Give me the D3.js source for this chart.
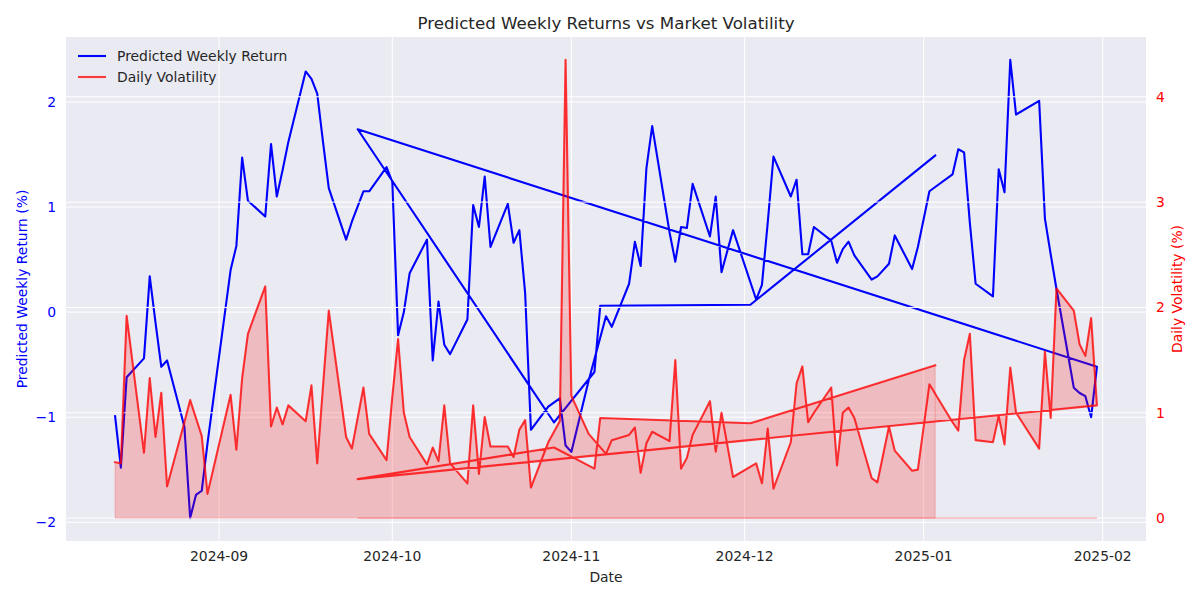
<!DOCTYPE html>
<html>
<head>
<meta charset="utf-8">
<script src="https://cdn.jsdelivr.net/npm/d3@7"></script>
<style>
  body { margin: 0; background: #ffffff; }
  text { font-family: "DejaVu Sans", sans-serif; }
</style>
</head>
<body>
<svg id="chart" width="1200" height="600"></svg>
<script>
// ---- DATA (in the order the series were plotted) ----
const dates = [
  "2024-08-14","2024-08-15","2024-08-16","2024-08-19","2024-08-20","2024-08-21","2024-08-22","2024-08-23",
  "2024-08-26","2024-08-27","2024-08-28","2024-08-29","2024-08-30","2024-09-03","2024-09-04","2024-09-05",
  "2024-09-06","2024-09-09","2024-09-10","2024-09-11","2024-09-12","2024-09-13","2024-09-16","2024-09-17",
  "2024-09-18","2024-09-19","2024-09-20","2024-09-23","2024-09-24","2024-09-26","2024-09-27","2024-09-30",
  "2024-10-01","2024-10-02","2024-10-03","2024-10-04","2024-10-07","2024-10-08","2024-10-09","2024-10-10",
  "2024-10-11","2024-10-14","2024-10-15","2024-10-16","2024-10-17","2024-10-18","2024-10-21","2024-10-22",
  "2024-10-23","2024-10-24","2024-10-25","2024-10-28","2024-10-30","2024-10-31","2024-11-01","2024-11-04",
  "2024-11-07","2024-11-08","2024-11-11","2024-11-12","2024-11-13","2024-11-14","2024-11-15","2024-11-18",
  "2024-11-19","2024-11-20","2024-11-21","2024-11-22","2024-11-25","2024-11-26","2024-11-27","2024-11-29",
  "2024-12-03","2024-12-04","2024-12-05","2024-12-06","2024-12-09","2024-12-10","2024-12-11","2024-12-12",
  "2024-12-13","2024-12-16","2024-12-17","2024-12-18","2024-12-19","2024-12-20","2024-12-23","2024-12-24",
  "2024-12-26","2024-12-27","2024-12-30","2024-12-31","2025-01-02","2025-01-06","2025-01-07","2025-01-08",
  "2025-01-09","2025-01-10","2025-01-13","2025-01-14","2025-01-15","2025-01-16","2025-01-17","2025-01-21",
  "2025-01-22","2025-01-23","2025-01-24","2025-01-27","2025-01-28","2025-01-29","2025-01-30","2025-01-31",
  "2024-09-25","2024-10-29","2024-11-05","2024-11-06","2024-12-02","2025-01-03"
];
const predictedReturn = [
  -0.99,-1.48,-0.62,-0.44, 0.34,-0.10,-0.52,-0.46,
  -1.09,-1.96,-1.74,-1.70,-1.25, 0.40, 0.63, 1.47,
   1.06, 0.91, 1.60, 1.10, 1.35, 1.62, 2.29, 2.22,
   2.08, 1.62, 1.18, 0.69, 0.86, 1.15, 1.15, 1.38,
   1.24,-0.22, 0.00, 0.37, 0.69,-0.46, 0.10,-0.31,
  -0.40,-0.07, 1.02, 0.81, 1.29, 0.62, 1.03, 0.66,
   0.78, 0.18,-1.12,-0.90,-0.82,-1.27,-1.33,-0.65,
  -0.04,-0.14, 0.27, 0.67, 0.44, 1.37, 1.77, 0.76,
   0.48, 0.81, 0.80, 1.22, 0.72, 1.10, 0.38, 0.78,
   0.12, 0.26, 0.85, 1.48, 1.10, 1.26, 0.55, 0.55,
   0.81, 0.68, 0.47, 0.60, 0.67, 0.54, 0.31, 0.34,
   0.46, 0.73, 0.41, 0.62, 1.15, 1.31, 1.55, 1.52,
   0.85, 0.27, 0.15, 1.36, 1.14, 2.40, 1.88, 2.01,
   0.89, 0.55, 0.22,-0.72,-0.77,-0.80,-1.00,-0.52,
   1.74,-1.05,-0.57, 0.06, 0.07, 1.49
];
const dailyVolatility = [
  0.53, 0.52, 1.92, 0.62, 1.33, 0.77, 1.19, 0.30,
  0.91, 1.12, 0.95, 0.78, 0.23, 1.17, 0.65, 1.33,
  1.75, 2.20, 0.87, 1.05, 0.89, 1.07, 0.92, 1.26,
  0.52, 1.25, 1.97, 0.77, 0.66, 1.24, 0.80, 0.55,
  1.15, 1.70, 1.00, 0.77, 0.51, 0.67, 0.54, 1.07,
  0.52, 0.33, 1.07, 0.42, 0.96, 0.68, 0.68, 0.58,
  0.84, 0.93, 0.29, 0.72, 0.92, 4.35, 1.16, 0.80,
  0.61, 0.74, 0.79, 0.86, 0.43, 0.71, 0.82, 0.73,
  1.50, 0.47, 0.57, 0.79, 1.11, 0.63, 1.00, 0.39,
  0.52, 0.33, 0.85, 0.28, 0.72, 1.28, 1.44, 0.91,
  1.00, 1.24, 0.50, 1.00, 1.05, 0.95, 0.38, 0.34,
  0.87, 0.64, 0.45, 0.46, 1.27, 0.91, 0.83, 1.50,
  1.75, 0.74, 0.72, 0.97, 0.70, 1.43, 1.00, 0.66,
  1.58, 0.95, 2.18, 1.97, 1.65, 1.54, 1.90, 1.07,
  0.37, 0.67, 0.47, 0.95, 0.90, 1.45
];
const xTickLabels = ["2024-09","2024-10","2024-11","2024-12","2025-01","2025-02"];
const leftTicks = [-2, -1, 0, 1, 2];
const rightTicks = [0, 1, 2, 3, 4];
const titleText = "Predicted Weekly Returns vs Market Volatility";
const seriesNames = ["Predicted Weekly Return", "Daily Volatility"];

// ---- LAYOUT ----
const W = 1200, H = 600;
const plot = { left: 66, right: 1146, top: 37, bottom: 541 };
const textColor = "#262626";
const fontSize = 13.9;

const parse = d3.utcParse("%Y-%m-%d");
const rows = dates.map((d, i) => ({ date: parse(d), ret: predictedReturn[i], vol: dailyVolatility[i] }));

function pad(ext, frac) { const s = ext[1] - ext[0]; return [ext[0] - s * frac, ext[1] + s * frac]; }

const xExt = d3.extent(rows, d => d.date);
const xSpan = xExt[1] - xExt[0];
const x = d3.scaleUtc()
  .domain([new Date(+xExt[0] - xSpan * 0.05), new Date(+xExt[1] + xSpan * 0.05)])
  .range([plot.left, plot.right]);
const yL = d3.scaleLinear().domain(pad(d3.extent(predictedReturn), 0.05)).range([plot.bottom, plot.top]);
const yR = d3.scaleLinear().domain(pad([0, d3.max(dailyVolatility)], 0.05)).range([plot.bottom, plot.top]);

const svg = d3.select("#chart");
svg.append("rect").attr("width", W).attr("height", H).attr("fill", "#ffffff");

// axes background
svg.append("rect")
  .attr("x", plot.left).attr("y", plot.top)
  .attr("width", plot.right - plot.left).attr("height", plot.bottom - plot.top)
  .attr("fill", "#EAEAF2");

const clip = svg.append("defs").append("clipPath").attr("id", "clip");
clip.append("rect").attr("x", plot.left).attr("y", plot.top)
  .attr("width", plot.right - plot.left).attr("height", plot.bottom - plot.top);

const xTickDates = xTickLabels.map(s => parse(s + "-01"));

// ax1 grid
const g1 = svg.append("g").attr("clip-path", "url(#clip)");
g1.selectAll("line.vx").data(xTickDates).enter().append("line")
  .attr("x1", d => x(d)).attr("x2", d => x(d))
  .attr("y1", plot.top).attr("y2", plot.bottom)
  .attr("stroke", "#ffffff").attr("stroke-width", 1);
g1.selectAll("line.hl").data(leftTicks).enter().append("line")
  .attr("x1", plot.left).attr("x2", plot.right)
  .attr("y1", d => yL(d)).attr("y2", d => yL(d))
  .attr("stroke", "#ffffff").attr("stroke-width", 1);

// blue line
const lineL = d3.line().x(d => x(d.date)).y(d => yL(d.ret));
g1.append("path").datum(rows).attr("d", lineL)
  .attr("fill", "none").attr("stroke", "#0000ff").attr("stroke-width", 2.1)
  .attr("stroke-linejoin", "round").attr("stroke-linecap", "square");

// legend (belongs to ax1)
const leg = svg.append("g");
[["#0000ff", 1], ["#ff0000", 0.75]].forEach((c, i) => {
  const yy = 56 + i * 21;
  leg.append("line").attr("x1", 78).attr("x2", 106).attr("y1", yy).attr("y2", yy)
    .attr("stroke", c[0]).attr("stroke-opacity", c[1]).attr("stroke-width", 2.1);
  leg.append("text").attr("x", 117).attr("y", yy + 5).attr("font-size", fontSize)
    .attr("fill", textColor).text(seriesNames[i]);
});

// ax2 grid + fill + red line
const g2 = svg.append("g").attr("clip-path", "url(#clip)");
g2.selectAll("line.hr").data(rightTicks).enter().append("line")
  .attr("x1", plot.left).attr("x2", plot.right)
  .attr("y1", d => yR(d)).attr("y2", d => yR(d))
  .attr("stroke", "#ffffff").attr("stroke-width", 1);

const area = d3.area().x(d => x(d.date)).y0(yR(0)).y1(d => yR(d.vol));
g2.append("path").datum(rows).attr("d", area)
  .attr("fill", "#ff0000").attr("fill-opacity", 0.2)
  .attr("stroke", "#ff0000").attr("stroke-opacity", 0.2).attr("stroke-width", 1)
  .attr("fill-rule", "nonzero");

const lineR = d3.line().x(d => x(d.date)).y(d => yR(d.vol));
g2.append("path").datum(rows).attr("d", lineR)
  .attr("fill", "none").attr("stroke", "#ff0000").attr("stroke-opacity", 0.75).attr("stroke-width", 2.1)
  .attr("stroke-linejoin", "round").attr("stroke-linecap", "square");

// tick labels
const fmt = d3.utcFormat("%Y-%m");
svg.selectAll("text.xt").data(xTickDates).enter().append("text")
  .attr("x", d => x(d)).attr("y", 561).attr("text-anchor", "middle")
  .attr("font-size", fontSize).attr("fill", textColor).text(d => fmt(d));

const minus = v => (v < 0 ? "\u2212" + Math.abs(v) : String(v));
svg.selectAll("text.yl").data(leftTicks).enter().append("text")
  .attr("x", 56).attr("y", d => yL(d) + 5).attr("text-anchor", "end")
  .attr("font-size", fontSize).attr("fill", "#0000ff").text(d => minus(d));
svg.selectAll("text.yr").data(rightTicks).enter().append("text")
  .attr("x", 1156).attr("y", d => yR(d) + 5).attr("text-anchor", "start")
  .attr("font-size", fontSize).attr("fill", "#ff0000").text(d => minus(d));

// axis labels
svg.append("text").attr("x", (plot.left + plot.right) / 2).attr("y", 582)
  .attr("text-anchor", "middle").attr("font-size", fontSize).attr("fill", textColor).text("Date");
svg.append("text")
  .attr("transform", `translate(27,${(plot.top + plot.bottom) / 2}) rotate(-90)`)
  .attr("text-anchor", "middle").attr("font-size", fontSize).attr("fill", "#0000ff")
  .text("Predicted Weekly Return (%)");
svg.append("text")
  .attr("transform", `translate(1182,${(plot.top + plot.bottom) / 2}) rotate(-90)`)
  .attr("text-anchor", "middle").attr("font-size", fontSize).attr("fill", "#ff0000")
  .text("Daily Volatility (%)");

// title
svg.append("text").attr("x", (plot.left + plot.right) / 2).attr("y", 29)
  .attr("text-anchor", "middle").attr("font-size", 16.7).attr("fill", textColor).text(titleText);
</script>
</body>
</html>
